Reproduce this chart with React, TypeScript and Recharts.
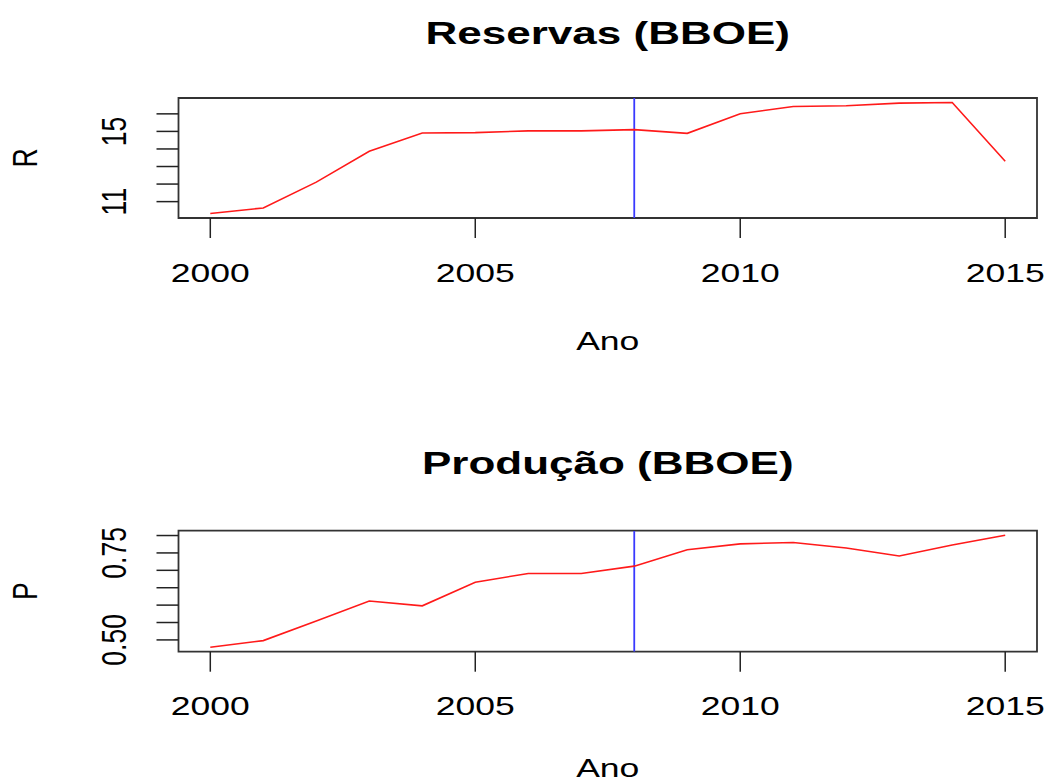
import React from "react";
import { LineChart, Line, XAxis, YAxis, ReferenceLine, ReferenceArea, Customized } from "recharts";

const years = [2000, 2001, 2002, 2003, 2004, 2005, 2006, 2007, 2008, 2009, 2010, 2011, 2012, 2013, 2014, 2015];
const reservas = [10.32, 10.64, 12.11, 13.87, 14.91, 14.93, 15.03, 15.03, 15.1, 14.89, 16.01, 16.42, 16.46, 16.61, 16.65, 13.3];
const producao = [0.479, 0.498, 0.554, 0.612, 0.598, 0.666, 0.691, 0.691, 0.712, 0.759, 0.776, 0.78, 0.764, 0.741, 0.773, 0.801];

const xTicks = [2000, 2005, 2010, 2015];
const rTicks = [11, 12, 13, 14, 15, 16];
const rLabeled = [11, 15];
const pTicks = [0.5, 0.55, 0.6, 0.65, 0.7, 0.75, 0.8];
const pLabeled = [0.5, 0.75];
const markerYear = 2008;

const FONT = "'Liberation Sans', Arial, Helvetica, sans-serif";
const FS = 26.5;
const SX = 1.34;
const W = 1051;
const PLOT_LEFT = 178.5;
const PLOT_RIGHT = 1037;
const XAXIS_H = 40;

function rDomain(vals: number[]): [number, number] {
  const mn = Math.min(...vals);
  const mx = Math.max(...vals);
  const e = (mx - mn) * 0.04;
  return [mn - e, mx + e];
}
const xDomain: [number, number] = [years[0] - 0.04 * (years[years.length - 1] - years[0]), years[years.length - 1] + 0.04 * (years[years.length - 1] - years[0])];

type PanelProps = {
  values: number[];
  title: string;
  yTitle: string;
  yTicks: number[];
  yLabeled: number[];
  fmt: (v: number) => string;
  height: number;
  boxTop: number;
  boxBottom: number;
  titleBase: number;
  anoOffset: number;
};

function Panel(p: PanelProps) {
  const data = years.map((y, i) => ({ year: y, v: p.values[i] }));
  const yDom = rDomain(p.values);
  const midX = (PLOT_LEFT + PLOT_RIGHT) / 2;
  const midY = (p.boxTop + p.boxBottom) / 2;

  const XTick = (props: any) => {
    const { x, payload } = props;
    return (
      <text
        transform={`translate(${x},${p.boxBottom + 63.5}) scale(${SX},1)`}
        textAnchor="middle"
        fontFamily={FONT}
        fontSize={FS}
        fill="#000"
      >
        {String(payload.value)}
      </text>
    );
  };

  const YTick = (props: any) => {
    const { y, payload } = props;
    const v = payload.value as number;
    if (!p.yLabeled.some((l) => Math.abs(l - v) < 1e-9)) return <g />;
    return (
      <text
        transform={`translate(126,${y}) scale(${SX},1) rotate(-90)`}
        textAnchor="middle"
        fontFamily={FONT}
        fontSize={FS}
        fill="#000"
      >
        {p.fmt(v)}
      </text>
    );
  };

  const Texts = () => (
    <g>
      <text
        transform={`translate(${midX},${p.titleBase}) scale(1.42,1)`}
        textAnchor="middle"
        fontFamily={FONT}
        fontSize={31}
        fontWeight="bold"
        fill="#000"
      >
        {p.title}
      </text>
      <text
        transform={`translate(${midX},${p.boxBottom + p.anoOffset}) scale(${SX},1)`}
        textAnchor="middle"
        fontFamily={FONT}
        fontSize={FS}
        fill="#000"
      >
        Ano
      </text>
      <text
        transform={`translate(37,${midY}) scale(${SX},1) rotate(-90)`}
        textAnchor="middle"
        fontFamily={FONT}
        fontSize={FS}
        fill="#000"
      >
        {p.yTitle}
      </text>
    </g>
  );

  return (
    <LineChart
      width={W}
      height={p.height}
      data={data}
      margin={{ top: p.boxTop, right: W - PLOT_RIGHT, left: 0, bottom: p.height - p.boxBottom - XAXIS_H }}
    >
      <XAxis
        dataKey="year"
        type="number"
        domain={xDomain}
        allowDataOverflow
        ticks={xTicks}
        height={XAXIS_H}
        tickSize={20}
        axisLine={false}
        tickLine={{ stroke: "#222", strokeWidth: 1.5 }}
        tick={XTick}
        interval={0}
      />
      <YAxis
        type="number"
        domain={yDom}
        allowDataOverflow
        ticks={p.yTicks}
        width={PLOT_LEFT}
        tickSize={22}
        axisLine={false}
        tickLine={{ stroke: "#222", strokeWidth: 1.5 }}
        tick={YTick}
        interval={0}
      />
      <ReferenceLine x={markerYear} stroke="#3a3aff" strokeWidth={1.8} ifOverflow="hidden" />
      <Line
        type="linear"
        dataKey="v"
        stroke="#ff1a1a"
        strokeWidth={1.6}
        dot={false}
        activeDot={false}
        isAnimationActive={false}
      />
      <ReferenceArea
        x1={xDomain[0]}
        x2={xDomain[1]}
        y1={yDom[0]}
        y2={yDom[1]}
        fill="none"
        fillOpacity={0}
        stroke="#333"
        strokeWidth={1.8}
        ifOverflow="visible"
      />
      <Customized component={Texts} />
    </LineChart>
  );
}

export default function App() {
  return (
    <div style={{ position: "absolute", left: 0, top: 0, width: W, height: 783, background: "#fff" }}>
      <div style={{ position: "absolute", left: 0, top: 0 }}>
        <Panel
          values={reservas}
          title="Reservas (BBOE)"
          yTitle="R"
          yTicks={rTicks}
          yLabeled={rLabeled}
          fmt={(v) => String(v)}
          height={432}
          boxTop={98}
          boxBottom={218}
          titleBase={43.5}
          anoOffset={132}
        />
      </div>
      <div style={{ position: "absolute", left: 0, top: 432 }}>
        <Panel
          values={producao}
          title="Produção (BBOE)"
          yTitle="P"
          yTicks={pTicks}
          yLabeled={pLabeled}
          fmt={(v) => v.toFixed(2)}
          height={351}
          boxTop={98.7}
          boxBottom={219.7}
          titleBase={41.5}
          anoOffset={125}
        />
      </div>
    </div>
  );
}
